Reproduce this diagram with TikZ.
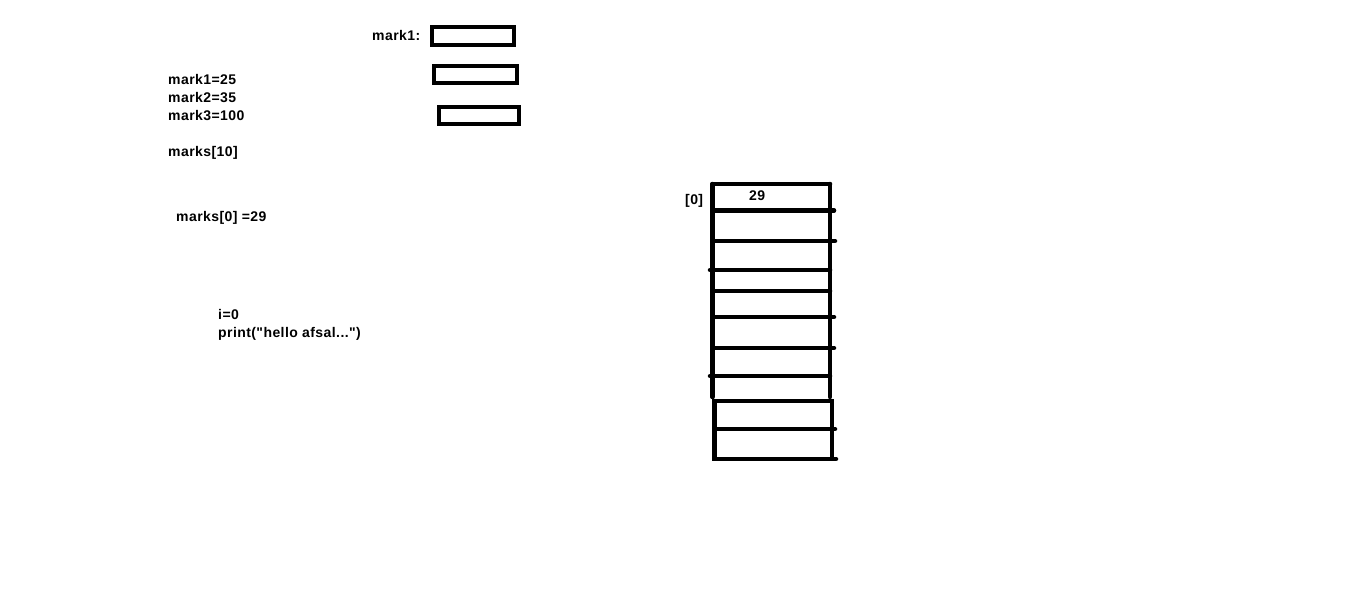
\documentclass[tikz,border=0pt]{standalone}
\usepackage{fontspec}
\setmainfont{Liberation Sans}[LetterSpace=3, Ligatures=TeXOff]
\usepackage{tikz}

\tikzset{
  txt/.style={anchor=base west, inner sep=0pt, font=\fontsize{14}{16}\selectfont\bfseries},
  cell/.style={line width=4.5pt, line cap=round},
  var/.style={line width=4pt}
}

\begin{document}
\begin{tikzpicture}[x=1pt, y=-1pt]
    \useasboundingbox (0,0) rectangle (1360,592);

    % variables
    \node[txt] (lmark) at (372,40) {mark1:};
    \draw[var] (432,27) rectangle (514,45);
    \draw[var] (434,66) rectangle (517,83);
    \draw[var] (439,107) rectangle (519,124);

    \node[txt] (m1) at (168,84) {mark1=25};
    \node[txt] (m2) at (168,102) {mark2=35};
    \node[txt] (m3) at (168,120) {mark3=100};
    \node[txt] (arr) at (168,156) {marks[10]};
    \node[txt] (assign) at (176,221) {marks[0] =29};

    \node[txt] (ini) at (218,319) {i=0};
    \node[txt] (prt) at (218,337) {print("hello afsal...")};

    % the array
    \node[txt] (idx) at (685,204) {[0]};
    \node[txt] (val) at (749,200) {29};
    \draw[cell] (712.5,184) -- (712.5,397);
    \draw[cell] (830,184) -- (830,397);
    \draw[cell] (712.5,184) -- (830,184);
    \foreach \y/\a/\b in {210.5/712.5/834, 241/712.5/835, 270/710/830,
                          291/712.5/830, 317/712.5/834, 348/712.5/834, 376/710/830}
        \draw[cell] (\a,\y) -- (\b,\y);

    \draw[cell] (714.5,401) rectangle (832,459);
    \draw[cell] (714.5,429) -- (835,429);
    \draw[cell] (832,459) -- (836,459);
\end{tikzpicture}
\end{document}
